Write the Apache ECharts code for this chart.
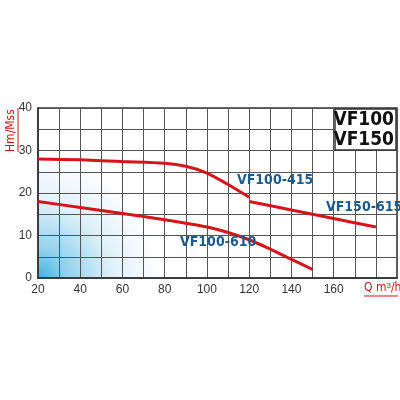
<!DOCTYPE html>
<html><head><meta charset="utf-8">
<script src="https://cdn.jsdelivr.net/npm/echarts@6/dist/echarts.min.js"></script>
<style>html,body{margin:0;background:#fff}#c{width:400px;height:400px}</style>
</head><body><div id="c"></div>
<script>
var vf100_415 = [[20,28],[40,27.8],[60,27.4],[80,27],[90,26.3],[100,24.7],[110,22],[120,19]];
var vf150_615 = [[120,18],[140,16],[160,14],[180,12]];
var vf100_610 = [[20,18],[40,16.6],[60,15.2],[80,13.7],[100,12],[110,10.7],[120,9],[130,6.8],[140,4.4],[150,2]];
var xLabels = [20,40,60,80,100,120,140,160];

var chart = echarts.init(document.getElementById('c'));

function curve(data) {
  return {
    type: 'line', data: data, smooth: 0.3, symbol: 'none',
    lineStyle: { color: '#d7141a', width: 3 },
    z: 3
  };
}

var lbl = 'bold 14px "DejaVu Sans Condensed", Arial';

chart.setOption({
  animation: false,
  grid: { left: 38, right: 3, top: 108, bottom: 122,
    backgroundColor: new echarts.graphic.RadialGradient(0, 1, 1.1, [
      { offset: 0, color: '#3ab2de' }, { offset: 0.15, color: '#8fd0ec' },
      { offset: 0.4, color: '#dff1fa' }, { offset: 0.65, color: '#ffffff' }, { offset: 1, color: '#ffffff' }]),
    show: true, borderColor: '#333', borderWidth: 1.5 },
  xAxis: {
    type: 'value', min: 20, max: 190, interval: 10,
    axisLine: { lineStyle: { color: '#333', width: 1.5 } },
    axisTick: { show: false },
    splitLine: { lineStyle: { color: '#555', width: 1 } },
    axisLabel: { color: '#333', fontSize: 12, fontFamily: 'Arial', margin: 6,
      formatter: function (v) { return xLabels.indexOf(v) >= 0 ? v : ''; } }
  },
  yAxis: {
    type: 'value', min: 0, max: 40, interval: 5,
    axisLine: { show: true, lineStyle: { color: '#333', width: 1.5 } },
    axisTick: { show: false },
    splitLine: { lineStyle: { color: '#555', width: 1 } },
    axisLabel: { color: '#333', fontSize: 12, fontFamily: 'Arial', margin: 6,
      formatter: function (v) { return v % 10 === 0 ? v : ''; } }
  },
  series: [curve(vf100_415), curve(vf150_615), curve(vf100_610)],
  graphic: [
    { type: 'rect', shape: { x: 335, y: 109, width: 61, height: 41 },
      style: { fill: '#fff', stroke: '#333', lineWidth: 1.5 }, z: 10 },
    { type: 'text', right: 6, top: 110, z: 11,
      style: { text: 'VF100\nVF150', fill: '#111', font: 'bold 19px "DejaVu Sans Condensed", Arial', align: 'right', lineHeight: 20 } },
    { type: 'text', left: 237, top: 173, z: 11, style: { text: 'VF100-415', fill: '#1b5a8f', font: lbl } },
    { type: 'text', left: 326, top: 200, z: 11, style: { text: 'VF150-615', fill: '#1b5a8f', font: lbl } },
    { type: 'text', left: 180, top: 235, z: 11, style: { text: 'VF100-610', fill: '#1b5a8f', font: lbl } },
    { type: 'text', x: 11, y: 152, rotation: Math.PI / 2, z: 11,
      style: { text: 'Hm/Mss', fill: '#d7141a', font: '12px "DejaVu Sans Condensed", Arial', align: 'left', verticalAlign: 'middle' } },
    { type: 'line', shape: { x1: 18, y1: 108, x2: 18, y2: 152 }, style: { stroke: '#d7141a', lineWidth: 1 } },
    { type: 'text', x: 364, y: 282, z: 11,
      style: { rich: { a: { fontSize: 12, fill: '#d7141a', fontFamily: 'DejaVu Sans Condensed' }, s: { fontSize: 8, fill: '#d7141a', verticalAlign: 'top' } },
        text: '{a|Q m}{s|3}{a|/h}' } },
    { type: 'line', shape: { x1: 364, y1: 296, x2: 398, y2: 296 }, style: { stroke: '#d7141a', lineWidth: 1 } }
  ]
});
</script>
</body></html>
